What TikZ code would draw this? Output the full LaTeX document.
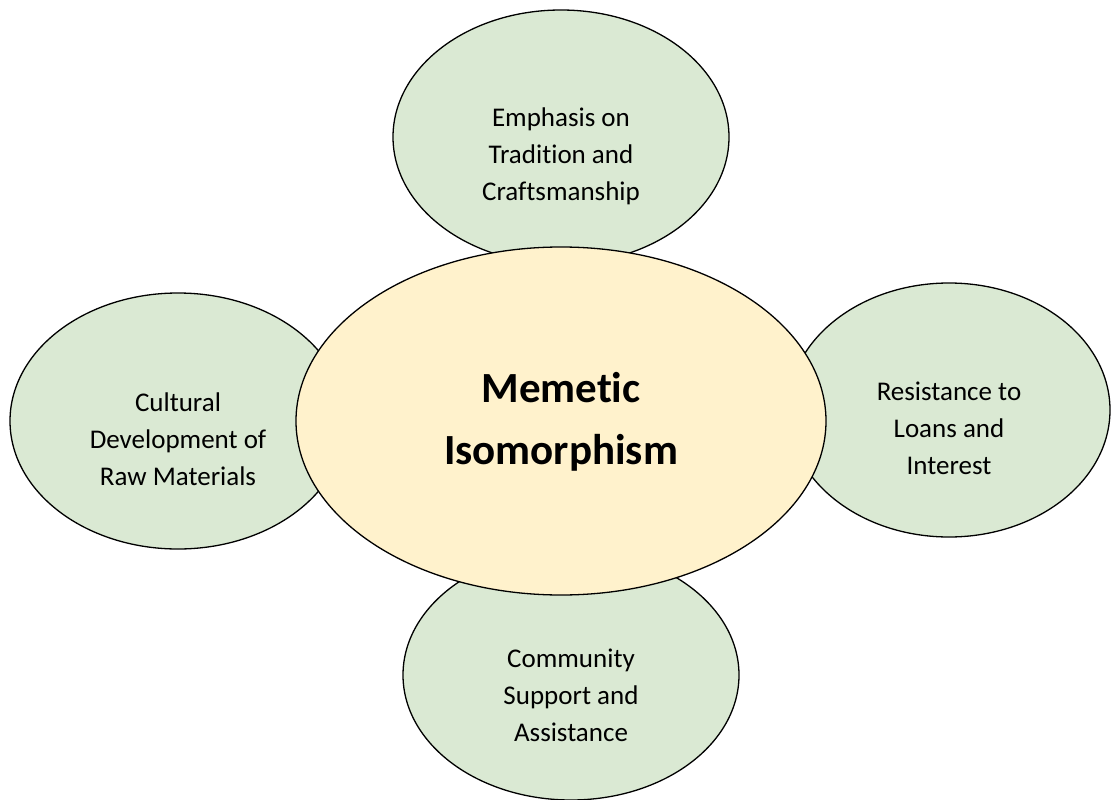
\documentclass[tikz,border=0pt]{standalone}
\usepackage{fontspec}
\setmainfont{Carlito}[Ligatures=NoCommon]
\usetikzlibrary{shapes.geometric}
\definecolor{leafgreen}{HTML}{DAE9D3}
\definecolor{coregold}{HTML}{FFF2CC}
\tikzset{
  blob/.style={ellipse, draw=black, line width=1.3pt, inner sep=0pt, outer sep=0pt},
  outerblob/.style={blob, fill=leafgreen},
  coreblob/.style={blob, fill=coregold},
  smalltext/.style={align=center, font=\fontsize{27}{37}\selectfont, text=black},
  bigtext/.style={align=center, font=\fontsize{43}{62}\selectfont\bfseries, text=black}
}
\begin{document}
\begin{tikzpicture}[x=1pt,y=-1pt]
\useasboundingbox (0,0) rectangle (1111,800);
\fill[white] (0,0) rectangle (1111,800);
\node[outerblob, minimum width=336pt, minimum height=254pt] (top) at (561,137) {};
\node[outerblob, minimum width=336pt, minimum height=256pt] (left) at (178,421) {};
\node[outerblob, minimum width=322pt, minimum height=254pt] (right) at (949,410) {};
\node[outerblob, minimum width=336pt, minimum height=250pt] (bottom) at (571,675) {};
\node[coreblob, minimum width=530pt, minimum height=348pt] (core) at (561,421) {};
\node[smalltext] (toptext) at (561,156) {Emphasis on\\Tradition and\\Craftsmanship};
\node[smalltext] (lefttext) at (178,439) {Cultural\\Development of\\Raw Materials};
\node[smalltext] (righttext) at (949,428) {Resistance to\\Loans and\\Interest};
\node[smalltext] (bottomtext) at (571,695) {Community\\Support and\\Assistance};
\node[bigtext] (coretext) at (561,422) {Memetic\\Isomorphism};
\end{tikzpicture}
\end{document}
